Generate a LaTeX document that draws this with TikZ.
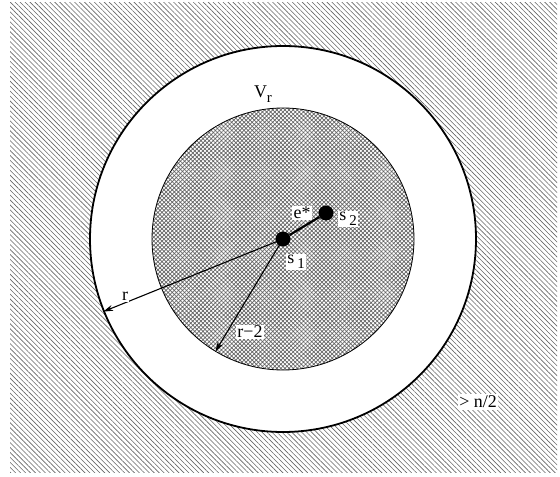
\documentclass[tikz,border=0pt]{standalone}
\usepackage{fontspec}
\setmainfont{Liberation Serif}
\usetikzlibrary{patterns.meta,arrows.meta}
\newcommand\lsub[1]{\raisebox{-0.3em}{\fontsize{15}{15}\selectfont #1}}
\begin{document}
\begin{tikzpicture}[x=1bp,y=-1bp,
  lbl/.style={fill=white,inner sep=1.5bp,font=\fontsize{18}{20}\selectfont},
  ptr/.style={line width=1.1bp,-{Stealth[length=10bp,width=6bp]}},
  vertex/.style={circle,fill=black,minimum size=15bp,inner sep=0pt}]
\useasboundingbox (0,0) rectangle (560,477);
\fill[pattern={Lines[angle=-45,distance=3.5bp,line width=0.6bp]},pattern color=black!60] (10,3) rectangle (557,472);
\node[circle,draw,fill=white,line width=1.8bp,minimum size=386bp,inner sep=0pt] (outer) at (283,239) {};
\node[circle,draw,line width=0.8bp,minimum size=262bp,inner sep=0pt,
  pattern={Hatch[angle=45,distance=2.9bp,line width=0.7bp]},pattern color=black!60] (inner) at (283,239) {};
\node[vertex] (s1) at (283,239) {};
\node[vertex] (s2) at (326,213) {};
\draw[line width=2.2bp] (s1) -- (s2);
\draw[ptr] (s1.center) -- (outer.202.7);
\draw[ptr] (s1.center) -- (inner.239.3);
\node[lbl] (vr) at (263,94) {V\lsub{r}};
\node[lbl] (es) at (302,213) {e*};
\node[lbl] (l2) at (348,219) {s\,\lsub{2}};
\node[lbl] (l1) at (296,262) {s\,\lsub{1}};
\node[lbl] (lr) at (125,296) {r};
\node[lbl] (lr2) at (250,332) {r−2};
\node[lbl] (ln) at (478,402) {> n/2};
\end{tikzpicture}
\end{document}
